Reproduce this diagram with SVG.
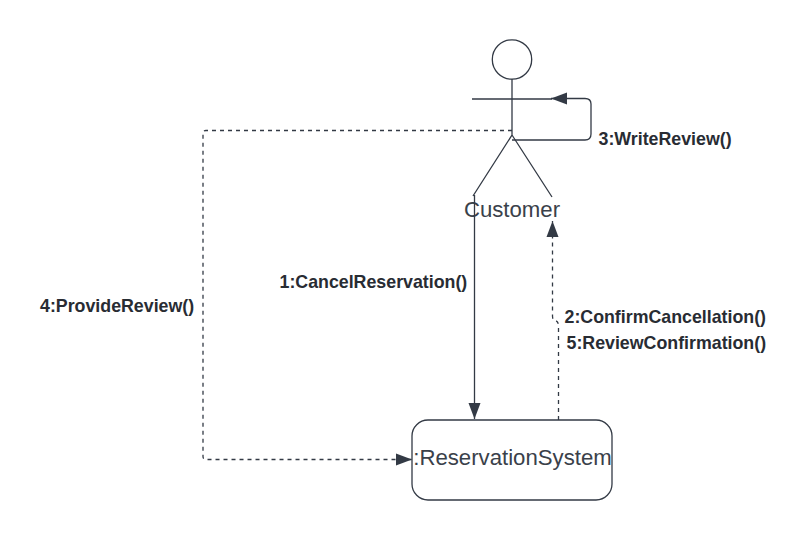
<svg xmlns="http://www.w3.org/2000/svg" width="805" height="540" viewBox="0 0 805 540">
<defs><marker id="a" markerUnits="userSpaceOnUse" markerWidth="17" markerHeight="14" refX="16" refY="7" orient="auto"><path d="M0 1L16 7L0 13Z" fill="#333a45"/></marker></defs>
<style>.l{fill:none;stroke:#333a45;stroke-width:1.3}.d{stroke-dasharray:4 4}.t{font-family:"Liberation Sans",sans-serif;font-size:17.8px;font-weight:bold;fill:#282c33}.n{font-family:"Liberation Sans",sans-serif;font-size:22.2px;fill:#3a414a}</style>
<rect width="805" height="540" fill="#fff"/>
<g id="customer"><circle class="l" cx="512" cy="59.5" r="19.7"/><path class="l" d="M472 99H552M512 79V135L473 196M512 135L552 197"/><text class="n" x="512" y="216.500" text-anchor="middle">Customer</text></g>
<g id="system"><rect class="l" x="412" y="420" width="200" height="80" rx="16"/><text class="n" x="512.5" y="464.500" text-anchor="middle">:ReservationSystem</text></g>
<g id="connectors">
<path class="l" d="M474.500 195V419" marker-end="url(#a)"/>
<path class="l d" d="M558.500 420V326Q558.500 321 555 320.500Q552.500 320 552.500 316V221" marker-end="url(#a)"/>
<path class="l" d="M512 140H585Q591 140 591 134V104Q591 98.500 585 98.500H551" marker-end="url(#a)"/>
<path class="l d" d="M512 130.500H206Q203 130.500 203 133.500V456.500Q203 459.500 206 459.500H412" marker-end="url(#a)"/>
</g>
<g id="labels">
<text class="t" x="598.500" y="144.500">3:WriteReview()</text>
<text class="t" x="279.500" y="288">1:CancelReservation()</text>
<text class="t" x="40" y="311.500">4:ProvideReview()</text>
<text class="t" x="564.500" y="322.500">2:ConfirmCancellation()</text>
<text class="t" x="566.500" y="348.500">5:ReviewConfirmation()</text>
</g>
</svg>
